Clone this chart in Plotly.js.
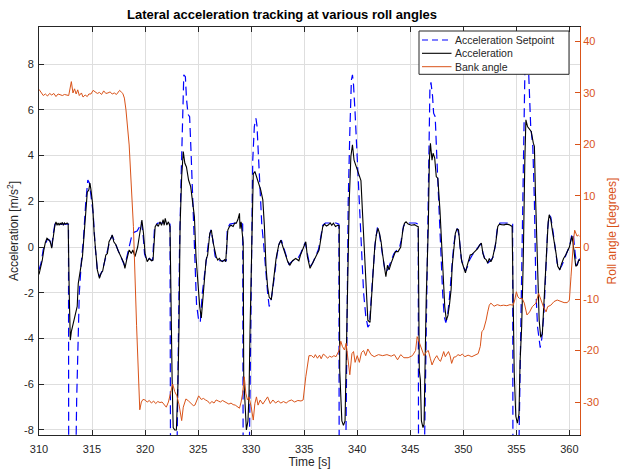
<!DOCTYPE html>
<html>
<head>
<meta charset="utf-8">
<script src="https://cdn.plot.ly/plotly-3.0.1.min.js"></script>
<style>html,body{margin:0;padding:0;background:#fff;}#chart{width:620px;height:473px;}</style>
</head>
<body>
<div id="chart"></div>
<script>
// ---- data ----
const seriesNames = ["Acceleration Setpoint", "Acceleration", "Bank angle"];
const xTicks = [310, 315, 320, 325, 330, 335, 340, 345, 350, 355, 360];
const yTicks = [-8, -6, -4, -2, 0, 2, 4, 6, 8];
const y2Ticks = [-30, -20, -10, 0, 10, 20, 30, 40];

const accT = [310.0,310.1,310.3,310.45,310.6,310.75,310.9,311.05,311.2,311.35,311.5,311.6,311.7,311.8,311.9,312.0,312.1,312.2,312.3,312.4,312.5,312.65,312.75,312.85,312.95,313.05,313.2,313.35,313.5,313.6,313.7,313.85,313.95,314.1,314.25,314.4,314.55,314.7,314.8,314.9,315.05,315.2,315.35,315.5,315.7,315.85,316.0,316.15,316.3,316.45,316.6,316.8,316.9,317.05,317.25,317.45,317.6,317.8,318.0,318.1,318.25,318.4,318.5,318.7,318.85,319.05,319.3,319.45,319.7,319.85,320.0,320.2,320.4,320.6,320.75,320.95,321.1,321.25,321.4,321.55,321.7,321.8,321.9,322.05,322.2,322.35,322.45,322.55,322.65,322.8,322.95,323.1,323.2,323.3,323.45,323.6,323.75,323.9,324.1,324.3,324.5,324.65,324.8,325.0,325.15,325.3,325.45,325.6,325.75,325.9,326.0,326.1,326.25,326.4,326.7,326.85,327.0,327.15,327.3,327.5,327.6,327.8,327.95,328.1,328.3,328.45,328.6,328.75,328.9,328.95,329.05,329.15,329.25,329.3,329.45,329.55,329.7,329.8,329.9,330.05,330.2,330.35,330.5,330.7,330.9,331.1,331.25,331.4,331.55,331.7,331.9,332.05,332.2,332.35,332.6,332.8,333.0,333.25,333.45,333.65,333.9,334.2,334.5,334.65,334.9,335.15,335.3,335.55,335.8,336.1,336.4,336.55,336.75,336.9,337.1,337.3,337.45,337.6,337.75,337.95,338.15,338.3,338.35,338.55,338.7,338.85,338.95,339.1,339.25,339.4,339.55,339.7,339.9,340.1,340.35,340.5,340.65,340.85,341.0,341.2,341.35,341.5,341.65,341.8,341.95,342.1,342.25,342.4,342.55,342.7,342.85,343.0,343.2,343.4,343.6,343.85,344.1,344.3,344.45,344.6,344.8,345.1,345.4,345.6,345.75,345.85,345.95,346.05,346.2,346.3,346.4,346.5,346.7,346.8,346.9,347.05,347.15,347.3,347.45,347.6,347.8,347.95,348.1,348.25,348.4,348.55,348.7,348.85,348.95,349.1,349.25,349.4,349.55,349.7,349.85,350.0,350.2,350.35,350.5,350.65,350.8,351.0,351.15,351.35,351.55,351.7,351.85,352.0,352.15,352.3,352.45,352.6,352.75,352.9,353.05,353.25,353.4,353.6,353.85,354.05,354.3,354.6,354.7,354.8,354.95,355.1,355.25,355.35,355.5,355.65,355.8,355.9,356.05,356.2,356.4,356.6,356.7,356.8,356.9,357.05,357.15,357.3,357.45,357.55,357.7,357.85,358.0,358.1,358.25,358.4,358.55,358.75,358.9,359.1,359.25,359.45,359.65,359.85,360.0,360.15,360.25,360.35,360.5,360.6,360.75,360.9,361.0];
const accV = [-1.2,-1.0,-0.6,-0.15,0.2,0.38,0.3,0.25,-0.05,0.5,0.95,1.1,0.95,1.05,0.95,1.05,0.98,1.08,0.95,1.05,1.0,1.05,1.0,-2.0,-4.07,-3.7,-3.4,-3.1,-2.9,-2.6,-1.6,-1.0,-0.86,-0.4,0.6,1.8,2.4,2.5,2.8,2.5,1.9,0.6,-0.42,-1.0,-1.37,-1.15,-1.05,-0.7,-0.35,-0.28,0.23,0.4,0.53,0.23,0.1,-0.15,-0.28,-0.5,-0.7,-0.93,-0.6,-0.3,-0.13,-0.28,-0.13,-0.42,0.0,0.45,1.18,0.6,-0.28,-0.64,-0.5,-0.6,-0.57,0.89,1.0,0.9,1.1,0.95,1.2,0.95,1.25,0.96,1.1,0.89,-3.0,-5.8,-7.9,-8.0,-8.0,-6.0,-3.5,0.9,3.08,4.17,3.66,3.5,2.93,2.64,1.9,1.33,-0.42,-1.74,-2.6,-3.1,-2.3,-1.3,-0.57,-0.35,0.3,0.6,0.74,0.23,-0.42,-0.57,-0.5,-0.6,-0.64,-0.55,-0.64,0.74,0.89,0.95,0.9,1.05,1.04,1.2,1.47,0.8,1.1,0.45,0.2,-5.7,-7.6,-8.0,-7.6,-6.4,-3.5,-0.57,3.2,3.3,3.08,2.86,2.5,2.06,0.89,-0.86,-1.74,-2.2,-2.3,-1.7,-1.15,-0.5,0.09,0.3,0.0,-0.35,-0.64,-0.79,-0.6,-0.5,-0.6,-0.35,-0.07,0.23,-0.42,-0.93,-0.7,-0.42,-0.13,0.3,0.89,1.0,0.92,0.97,1.05,0.95,1.04,0.9,0.95,0.93,-5.4,-7.6,-7.8,-7.6,-4.9,-2.0,2.06,3.96,4.47,3.8,3.5,3.2,2.9,1.47,0.0,-1.74,-3.2,-3.3,-2.0,-1.15,0.0,0.53,0.82,0.6,0.23,-0.35,-0.86,-1.3,-0.8,-1.0,-0.7,-0.42,-0.2,-0.2,0.0,0.74,1.04,1.1,1.0,0.95,0.98,0.92,0.89,-5.4,-5.8,-7.6,-7.9,-7.75,-5.0,-2.3,0.9,3.8,4.54,3.8,4.1,3.9,3.08,3.0,1.6,0.0,-1.74,-2.6,-3.2,-3.0,-2.5,-1.86,-0.84,0.0,0.6,0.79,0.75,0.0,-0.63,-0.84,-1.13,-0.84,-0.6,-0.35,-0.33,-0.22,-0.15,-0.07,0.1,0.17,-0.29,-0.5,-0.55,-0.7,-0.5,-0.65,-0.5,-0.2,0.15,0.9,1.0,0.98,0.97,1.0,0.98,0.9,-3.0,-5.5,-7.4,-7.7,-7.3,-5.0,-3.5,-0.57,3.8,5.56,5.27,5.15,5.05,4.54,4.4,2.35,0.89,-1.3,-3.2,-3.95,-3.8,-2.9,-1.45,0.0,1.1,1.41,1.2,0.7,0.3,-0.3,-0.84,-1.0,-0.75,-0.5,-0.35,-0.15,0.0,0.3,0.47,0.15,-0.4,-0.84,-0.78,-0.55,-0.6];

const spT = [310.0,310.2,310.4,310.6,310.8,311.0,311.2,311.35,311.5,312.0,312.5,312.78,312.8,313.45,313.55,313.65,313.8,314.0,314.2,314.4,314.6,314.75,314.9,315.1,315.3,315.5,315.7,315.9,316.1,316.3,316.5,316.7,316.9,317.1,317.3,317.5,317.7,317.9,318.05,318.25,318.45,318.6,318.8,319.0,319.25,319.5,319.65,319.8,319.95,320.15,320.4,320.7,320.9,321.2,321.6,322.0,322.35,322.4,322.98,323.1,323.25,323.4,323.55,323.65,323.8,323.9,324.05,324.2,324.35,324.5,324.65,324.85,325.05,325.2,325.4,325.6,325.8,326.0,326.2,326.4,326.6,326.8,327.1,327.4,327.65,327.75,328.0,328.5,329.0,329.2,329.25,329.8,329.9,330.05,330.15,330.3,330.45,330.55,330.65,330.8,331.0,331.2,331.4,331.55,331.7,331.85,332.05,332.25,332.45,332.65,332.85,333.05,333.3,333.55,333.8,334.1,334.4,334.65,334.9,335.1,335.3,335.55,335.8,336.1,336.35,336.55,336.75,337.0,337.5,338.0,338.27,338.3,338.9,339.05,339.15,339.3,339.45,339.55,339.65,339.8,339.95,340.15,340.3,340.45,340.6,340.8,341.0,341.15,341.3,341.5,341.7,341.9,342.05,342.2,342.4,342.6,342.75,342.95,343.2,343.45,343.7,343.95,344.15,344.35,344.55,345.0,345.5,345.75,345.78,346.3,346.5,346.7,346.85,346.95,347.1,347.2,347.35,347.5,347.7,347.9,348.05,348.2,348.35,348.5,348.7,348.9,349.1,349.3,349.45,349.6,349.8,350.0,350.2,350.4,350.6,350.85,351.1,351.4,351.65,351.85,352.05,352.3,352.55,352.8,353.0,353.2,353.45,354.0,354.5,354.65,354.68,355.2,355.45,355.6,355.75,355.85,356.05,356.2,356.35,356.55,356.7,356.85,357.0,357.25,357.4,357.6,357.8,357.95,358.1,358.25,358.45,358.65,358.85,359.05,359.3,359.55,359.8,360.05,360.25,360.4,360.55,360.7,360.85,361.0];
const spV = [-1.0,-0.7,-0.1,0.15,0.35,0.3,0.0,0.6,1.0,1.0,1.0,1.0,-10,-10,-6.7,-4.5,-2.0,-0.6,0.4,1.9,2.93,2.8,2.3,1.5,0.0,-1.0,-1.3,-1.1,-0.8,-0.4,-0.1,0.3,0.5,0.25,0.0,-0.2,-0.4,-0.6,-0.8,-0.5,-0.05,0.3,0.6,0.65,0.7,0.9,1.1,0.6,-0.3,-0.6,-0.5,-0.6,0.9,1.05,1.05,1.05,1.0,-10,-10,-5,0.0,3.1,6.0,7.53,7.45,6.5,5.8,5.7,3.96,2.06,-0.57,-2.5,-3.2,-3.3,-2.0,-1.2,-0.4,0.3,0.75,0.3,-0.4,-0.6,-0.6,-0.6,-0.6,0.8,1.0,1.05,1.05,1.0,-10,-10,-6,-0.6,3.8,5.27,5.63,5.3,4.4,2.5,1.0,0.0,-1.3,-2.0,-2.6,-2.4,-1.8,-1.0,-0.3,0.15,0.3,0.0,-0.4,-0.75,-0.65,-0.55,-0.5,-0.3,0.0,0.2,-0.3,-0.85,-0.7,-0.4,-0.1,0.4,0.95,1.05,1.05,1.05,1.0,-10,-10,-3.5,2.0,5.0,7.3,7.53,7.1,5.85,4.4,2.8,1.0,-0.5,-2.0,-3.0,-3.5,-3.4,-2.2,-1.0,0.2,0.85,0.7,0.3,-0.4,-1.0,-1.1,-0.9,-0.6,-0.3,-0.15,-0.1,0.3,0.9,1.05,1.05,1.05,1.0,-10,-10,-3.5,2.5,6.9,7.2,6.6,5.85,5.7,3.96,1.6,-0.57,-2.0,-3.05,-3.3,-3.05,-2.2,-1.0,0.1,0.7,0.8,0.5,-0.5,-0.85,-1.05,-0.85,-0.55,-0.35,-0.2,0.0,0.15,-0.25,-0.55,-0.7,-0.6,-0.45,0.0,0.8,1.05,1.05,1.05,1.0,-10,-10,-2.0,2.0,8.0,9.0,9.0,6.7,5.3,4.4,2.0,-2.0,-3.5,-4.4,-4.0,-2.9,-0.5,0.8,1.4,1.3,0.7,0.0,-0.7,-1.0,-0.8,-0.5,-0.2,0.1,0.6,0.4,-0.3,-0.8,-0.6,-0.5];

const bankT = [310.0,310.2,310.4,310.6,310.8,311.0,311.2,311.4,311.6,311.8,312.0,312.2,312.4,312.6,312.8,313.05,313.2,313.35,313.5,313.65,313.8,314.0,314.15,314.35,314.55,314.7,314.9,315.1,315.3,315.5,315.7,315.9,316.1,316.3,316.5,316.7,316.9,317.1,317.3,317.5,317.6,317.75,317.9,318.05,318.2,318.5,318.9,319.2,319.5,319.65,319.8,320.0,320.2,320.4,320.6,320.8,321.0,321.2,321.4,321.6,321.8,322.0,322.2,322.4,322.6,322.8,323.0,323.2,323.45,323.6,323.85,324.1,324.35,324.55,324.7,324.9,325.05,325.3,325.5,325.7,325.9,326.1,326.3,326.5,326.7,326.9,327.1,327.3,327.5,327.7,327.9,328.1,328.3,328.5,328.7,328.9,329.05,329.2,329.35,329.5,329.65,329.8,330.0,330.2,330.35,330.5,330.65,330.85,331.1,331.3,331.55,331.8,332.05,332.3,332.55,332.8,333.05,333.3,333.55,333.8,334.1,334.4,334.7,334.9,335.15,335.45,335.7,335.9,336.05,336.25,336.45,336.6,336.8,337.0,337.2,337.4,337.6,337.8,338.0,338.3,338.45,338.6,338.8,338.95,339.15,339.3,339.5,339.65,339.8,340.0,340.2,340.4,340.6,340.8,341.0,341.3,341.6,342.0,342.4,342.8,343.2,343.5,343.8,344.1,344.4,344.8,345.2,345.5,345.65,345.9,346.1,346.3,346.5,346.7,346.9,347.05,347.3,347.5,347.7,347.85,348.0,348.15,348.3,348.45,348.6,348.75,348.9,349.1,349.3,349.5,349.7,349.9,350.15,350.45,350.8,351.1,351.4,351.6,351.75,351.9,352.0,352.15,352.3,352.45,352.6,352.9,353.2,353.5,353.8,354.1,354.4,354.7,354.85,355.0,355.15,355.3,355.55,355.75,356.0,356.25,356.5,356.85,357.1,357.35,357.55,357.8,357.95,358.25,358.55,358.85,359.2,359.5,359.8,360.0,360.15,360.3,360.4,360.5,360.62,360.72,360.85,360.95];
const bankV = [30.7,30.2,29.5,29.8,29.4,29.9,29.6,29.9,29.3,29.8,29.6,29.5,29.7,29.6,29.5,32.2,30.0,30.8,29.8,30.6,29.5,30.0,29.2,29.6,29.3,29.8,29.8,30.5,30.2,29.9,30.1,29.7,30.4,29.9,30.0,30.2,29.8,30.0,29.7,30.3,30.5,30.2,29.9,29.0,26.7,19.9,4.1,-15.2,-31.5,-30.0,-29.5,-29.6,-30.0,-29.7,-30.2,-29.8,-30.3,-29.9,-30.1,-30.0,-30.5,-31.0,-30.0,-28.5,-26.5,-28.0,-28.8,-30.5,-33.6,-31.0,-29.4,-29.8,-30.3,-30.7,-30.6,-29.5,-28.8,-29.5,-29.3,-29.6,-29.8,-30.3,-29.9,-30.2,-29.6,-29.8,-30.0,-29.7,-29.9,-30.1,-30.4,-30.2,-30.5,-30.6,-30.9,-31.2,-30.0,-28.3,-25.1,-28.3,-29.6,-29.0,-30.9,-33.5,-30.3,-29.0,-30.6,-29.6,-30.4,-29.7,-29.0,-30.3,-29.6,-30.2,-29.8,-30.2,-29.9,-30.2,-29.8,-29.6,-30.0,-29.7,-29.8,-29.6,-25.1,-21.0,-21.0,-21.4,-20.8,-21.5,-20.9,-21.6,-20.7,-21.0,-21.5,-21.1,-21.3,-21.0,-21.2,-19.9,-18.2,-19.2,-19.9,-18.6,-22.5,-24.7,-20.6,-20.2,-22.3,-21.0,-22.3,-20.4,-20.0,-21.0,-19.7,-20.8,-21.2,-20.8,-21.0,-20.8,-21.1,-20.8,-21.8,-20.8,-21.4,-21.4,-21.0,-20.0,-17.3,-18.9,-19.8,-21.0,-20.3,-20.0,-21.6,-22.8,-21.6,-21.0,-21.8,-22.1,-21.2,-20.2,-21.2,-20.8,-20.2,-21.0,-22.5,-21.3,-21.2,-20.8,-21.0,-20.7,-21.2,-20.9,-21.2,-20.9,-20.6,-19.2,-16.3,-16.0,-15.4,-14.1,-12.5,-11.2,-10.8,-11.4,-11.1,-11.3,-11.2,-11.3,-11.1,-11.2,-10.2,-8.6,-9.6,-9.9,-9.9,-10.8,-13.1,-12.5,-11.5,-10.8,-8.9,-10.5,-11.5,-12.5,-11.5,-11.2,-10.5,-10.2,-10.5,-10.7,-10.7,-10.2,-5.7,-0.5,1.7,3.35,2.7,2.2,2.4,2.2];

// ---- styling ----
const FONT = "Liberation Sans, Arial, Helvetica, sans-serif";
const ORANGE = "#D95319";
const AX = "#262626";
const GRID = "#dedede";

// plot area in pixels (for the hand-built legend box)
const L = 39, R = 40, T = 27, B = 38, W = 620, H = 473;
const pw = W - L - R, ph = H - T - B;
const px = x => (x - L) / pw;
const py = y => (H - B - y) / ph;

const traces = [
  {x: spT, y: spV, name: seriesNames[0], mode: "lines", yaxis: "y",
   line: {color: "#0000ff", width: 1.2, dash: "9px,5px"}, showlegend: false},
  {x: accT, y: accV, name: seriesNames[1], mode: "lines", yaxis: "y",
   line: {color: "#000000", width: 1.1}, showlegend: false},
  {x: bankT, y: bankV, name: seriesNames[2], mode: "lines", yaxis: "y2",
   line: {color: ORANGE, width: 1}, showlegend: false}
];

// legend (drawn as a box with sample lines and texts)
const legRows = [40, 53.3, 66.7];
const legStyles = [
  {color: "#0000ff", width: 1.2, dash: "6px,4px"},
  {color: "#000000", width: 1.1},
  {color: ORANGE, width: 1}
];
const shapes = [{type: "rect", xref: "paper", yref: "paper",
  x0: px(419), x1: px(569), y0: py(74.3), y1: py(31),
  line: {color: AX, width: 1}, fillcolor: "#ffffff", layer: "above"}];
const annotations = [];
legRows.forEach((r, i) => {
  shapes.push({type: "line", xref: "paper", yref: "paper",
    x0: px(422), x1: px(451.5), y0: py(r), y1: py(r), line: legStyles[i], layer: "above"});
  annotations.push({xref: "paper", yref: "paper", x: px(453), y: py(r),
    xanchor: "left", yanchor: "middle", showarrow: false, text: seriesNames[i],
    font: {family: FONT, size: 10.5, color: AX}});
});

const layout = {
  width: W, height: H,
  margin: {l: L, r: R, t: T, b: B, pad: 0},
  paper_bgcolor: "#ffffff", plot_bgcolor: "#ffffff",
  font: {family: FONT, size: 11, color: AX},
  showlegend: false,
  title: {text: "Lateral acceleration tracking at various roll angles",
    font: {family: FONT, size: 13, color: "#000000", weight: "bold"},
    x: px(282), xref: "paper", xanchor: "center", y: 1 - 14 / H, yref: "container", yanchor: "middle"},
  xaxis: {range: [310, 361], tickvals: xTicks, ticktext: xTicks.map(String),
    ticks: "inside", ticklen: 5, tickcolor: AX, tickwidth: 1, ticklabelstandoff: 4,
    showline: true, linecolor: AX, linewidth: 1, mirror: "ticks",
    showgrid: true, gridcolor: GRID, gridwidth: 1, zeroline: false,
    tickfont: {family: FONT, size: 11, color: AX},
    title: {text: "Time [s]", font: {family: FONT, size: 12, color: AX}, standoff: 3}},
  yaxis: {range: [-8.22, 9.62], tickvals: yTicks, ticktext: yTicks.map(String),
    ticks: "inside", ticklen: 5, tickcolor: AX, tickwidth: 1, ticklabelstandoff: 2,
    showline: true, linecolor: AX, linewidth: 1, mirror: false,
    showgrid: true, gridcolor: GRID, gridwidth: 1, zeroline: false,
    tickfont: {family: FONT, size: 11, color: AX},
    title: {text: "Acceleration [m/s<sup>2</sup>]", font: {family: FONT, size: 12, color: AX}, standoff: 2}},
  yaxis2: {range: [-36.4, 42.8], tickvals: y2Ticks, ticktext: y2Ticks.map(String),
    overlaying: "y", side: "right", anchor: "x",
    ticks: "inside", ticklen: 5, tickcolor: ORANGE, tickwidth: 1,
    showline: true, linecolor: ORANGE, linewidth: 1,
    showgrid: false, zeroline: false,
    tickfont: {family: FONT, size: 11, color: ORANGE},
    title: {text: "Roll angle [degrees]", font: {family: FONT, size: 12, color: ORANGE}, standoff: 9}},
  shapes: shapes,
  annotations: annotations
};

Plotly.newPlot("chart", traces, layout, {staticPlot: true, displayModeBar: false});
</script>
</body>
</html>
